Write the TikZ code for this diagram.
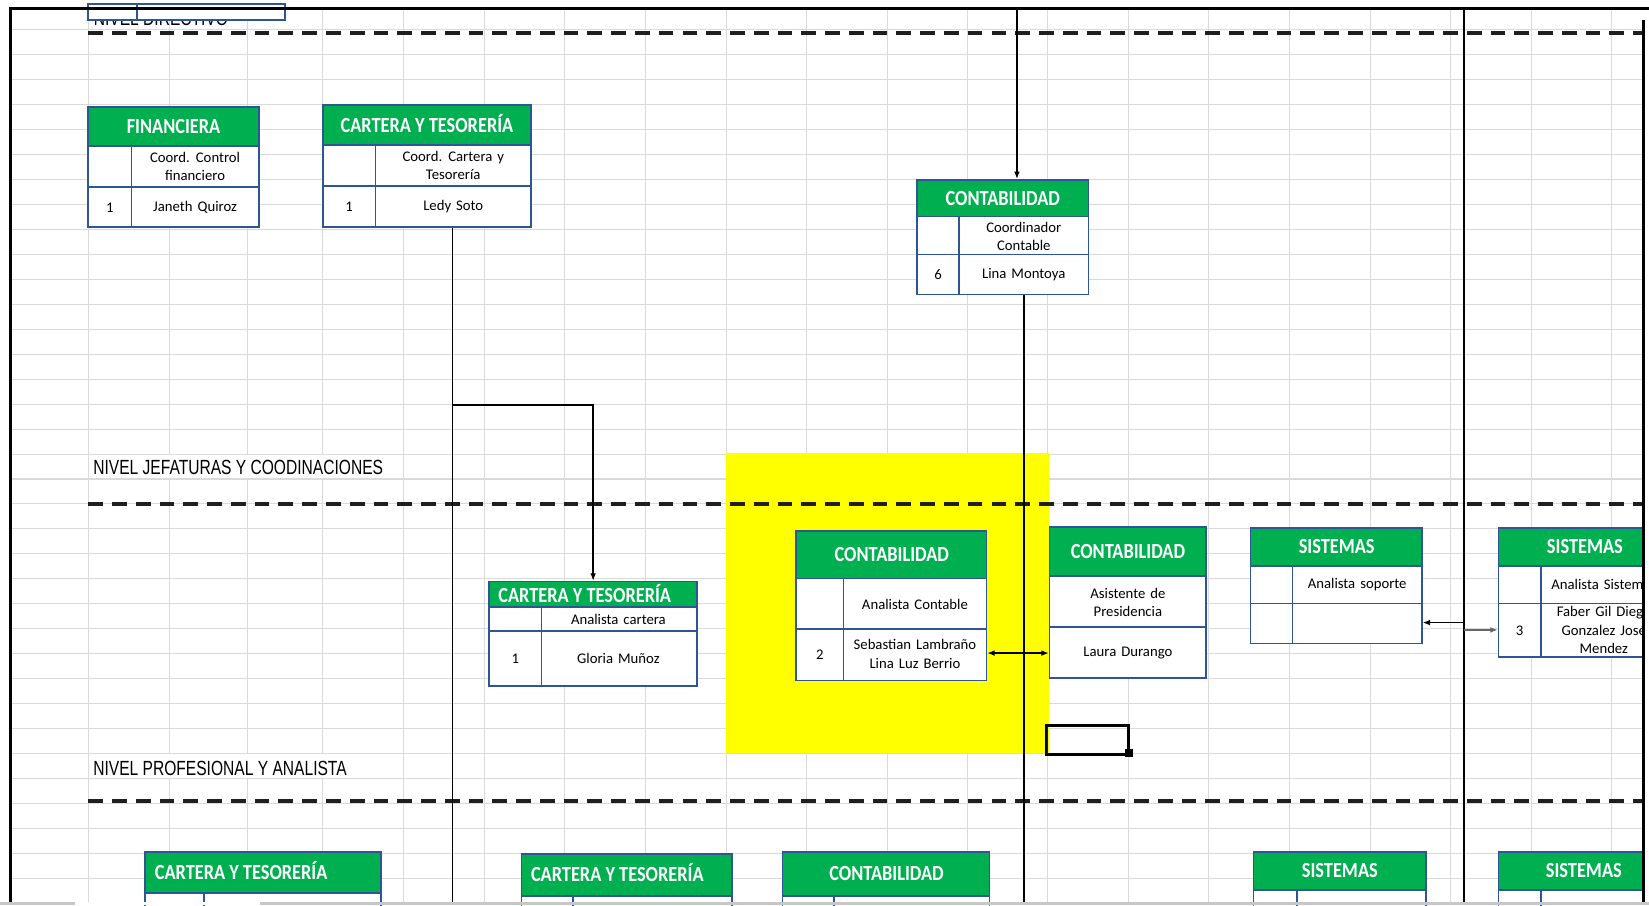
\documentclass[tikz,border=0pt]{standalone}
\usepackage{fontspec}
\newfontfamily\hdrfont[FakeStretch=0.85]{Carlito}
\newfontfamily\txtfont[WordSpace=1.5]{Carlito}
\newfontfamily\lblfont[FakeStretch=0.76]{Liberation Sans}
\usetikzlibrary{arrows.meta,fit}
\definecolor{xgreen}{RGB}{0,176,80}
\definecolor{xblue}{RGB}{47,85,151}
\definecolor{xgrid}{RGB}{218,218,218}
\definecolor{xyellow}{RGB}{255,255,0}
\tikzset{
  grid line/.style={xgrid, line width=1pt},
  level line/.style={line width=3.8pt, dash pattern=on 14pt off 8.6pt, black!88},
  boxline/.style={xblue, line width=1.6pt},
  hdrtxt/.style={text=white, font=\hdrfont\bfseries\fontsize{20.5}{24}\selectfont, inner sep=0pt, text height=13.2pt, text depth=0pt},
  celltxt/.style={font=\txtfont\fontsize{14}{17.5}\selectfont, align=center, inner sep=0pt},
  lvltxt/.style={font=\lblfont\fontsize{19.5}{22}\selectfont, inner sep=0pt, anchor=base west},
  conn/.style={line width=1.3pt, black},
  arr/.style={conn, -{Latex[length=7pt,width=5.5pt]}},
  darr/.style={conn, {Latex[length=7pt,width=5.5pt]}-{Latex[length=7pt,width=5.5pt]}},
}
% #1 name, #2 x1, #3 y1, #4 x2, #5 header bottom, #6 row2 bottom, #7 bottom, #8 divider x
\newcommand\orgbox[8]{%
  \fill[xgreen] (#2,#3) rectangle (#4,#5);
  \fill[white] (#2,#5) rectangle (#4,#7);
  \draw[boxline] (#2,#5) -- (#4,#5) (#2,#6) -- (#4,#6) (#8,#5) -- (#8,#7);
  \node[fit={(#2,#3) (#4,#7)}, inner sep=0pt, draw=xblue, line width=1.6pt] (#1) {};
}
\begin{document}
\begin{tikzpicture}[x=1pt,y=-1pt]
\useasboundingbox (0,0) rectangle (1568,861);
\fill[white] (0,0) rectangle (1568,861);
\begin{scope}
\clip (0,0) rectangle (1563,861);
% spreadsheet grid
\foreach \gx in {84,161,235,307,384,461,537,614,691,767,844,920,996,1073,1149,1226,1303,1379,1456,1532}
  \draw[grid line] (\gx,9.5) -- (\gx,861);
\foreach \k in {0,...,35}
  \draw[grid line] (11.5,{28.5+23.72*\k}) -- (1563,{28.5+23.72*\k});
% highlighted cells
\fill[xyellow] (690,431) rectangle (997,716);
% level labels
\fill[white] (84.5,432.3) rectangle (383.5,454.9);
\fill[white] (84.5,717) rectangle (383.5,739.5);
\node[lvltxt] (lblA) at (89,24) {NIVEL DIRECTIVO};
\node[lvltxt] (lblB) at (88.5,451) {NIVEL JEFATURAS Y COODINACIONES};
\node[lvltxt] (lblC) at (88.5,737) {NIVEL PROFESIONAL Y ANALISTA};
% partial box at top
\fill[white] (84,4) rectangle (271,19);
\draw[boxline] (84,4) rectangle (271,19) (130,4) -- (130,19);
% level separators
\draw[level line] (84,31) -- (1563,31);
\draw[level line] (84,479) -- (1563,479);
\draw[level line] (84,762) -- (1563,762);
% boxes
\orgbox{fin}{84}{102}{246}{139}{178}{216}{125}
\orgbox{ctA}{307}{100}{505}{138}{177}{216}{357}
\orgbox{conA}{872}{171}{1035}{206}{242}{280}{912}
\orgbox{ctB}{465}{553}{663}{577}{600}{652}{515}
\orgbox{conB}{757}{505}{938}{550}{598}{647}{802}
\orgbox{conC}{998}{501}{1147}{548}{596}{645}{998}
\orgbox{sisA}{1189}{502}{1352}{538}{574}{612}{1229}
\orgbox{sisB}{1425}{502}{1585}{538}{574}{625}{1465}
\orgbox{ctC}{138}{810}{362}{849}{890}{940}{194}
\orgbox{ctD}{496}{812}{696}{852}{890}{940}{545}
\orgbox{conD}{744}{810}{941}{852}{890}{940}{793}
\orgbox{sisC}{1192}{810}{1356}{846}{890}{940}{1233}
\orgbox{sisD}{1425}{810}{1585}{846}{890}{940}{1465}
% header texts
\node[hdrtxt] (h1) at (165,120.5) {FINANCIERA};
\node[hdrtxt] (h2) at (406,119) {CARTERA Y TESORERÍA};
\node[hdrtxt] (h3) at (953.5,188.5) {CONTABILIDAD};
\node[hdrtxt] (h4) at (556,566) {CARTERA Y TESORERÍA};
\node[hdrtxt] (h5) at (848,527.5) {CONTABILIDAD};
\node[hdrtxt] (h6) at (1072.5,524.5) {CONTABILIDAD};
\node[hdrtxt] (h7) at (1271,520) {SISTEMAS};
\node[hdrtxt] (h8) at (1507,520) {SISTEMAS};
\node[hdrtxt, anchor=west] (h9) at (147,829.5) {CARTERA Y TESORERÍA};
\node[hdrtxt] (h10) at (587,832) {CARTERA Y TESORERÍA};
\node[hdrtxt] (h11) at (843,831) {CONTABILIDAD};
\node[hdrtxt] (h12) at (1274,828) {SISTEMAS};
\node[hdrtxt] (h13) at (1506,828) {SISTEMAS};
% cell texts
\node[celltxt] (c1) at (185.5,158) {Coord. Control\\financiero};
\node[celltxt] (c2) at (104.5,197.5) {1};
\node[celltxt] (c3) at (185.5,197.5) {Janeth Quiroz};
\node[celltxt] (c4) at (431,157.5) {Coord. Cartera y\\Tesorería};
\node[celltxt] (c5) at (332,196.5) {1};
\node[celltxt] (c6) at (431,196.5) {Ledy Soto};
\node[celltxt] (c7) at (973.5,225) {Coordinador\\Contable};
\node[celltxt] (c8) at (892,261) {6};
\node[celltxt] (c9) at (973.5,261) {Lina Montoya};
\node[celltxt] (c10) at (588,589) {Analista cartera};
\node[celltxt] (c11) at (490,626.5) {1};
\node[celltxt] (c12) at (588,626.5) {Gloria Muñoz};
\node[celltxt] (c13) at (870,575) {Analista Contable};
\node[celltxt] (c14) at (779.5,622.5) {2};
\node[celltxt] (c15) at (870,622) {Sebastian Lambraño\\Lina Luz Berrio};
\node[celltxt] (c16) at (1072.5,573) {Asistente de\\Presidencia};
\node[celltxt] (c17) at (1072.5,621) {Laura Durango};
\node[celltxt] (c18) at (1290.5,556) {Analista soporte};
\node[celltxt] (c19) at (1525,556) {Analista Sistemas};
\node[celltxt] (c20) at (1445,599.5) {3};
\node[celltxt] (c21) at (1525,599) {Faber Gil Diego\\Gonzalez José\\Mendez};
% connectors
\coordinate (topA) at (967,8);
\draw[arr] (topA) -- (topA |- conA.north);
\coordinate (botA) at (973.5,861);
\draw[conn, line width=1.9pt] (botA |- conA.south) -- (botA);
\coordinate (botB) at (430.5,861);
\draw[conn] (botB |- ctA.south) -- (botB);
\coordinate (brB) at (430.5,385);
\draw[arr] (brB) -| (ctB.north);
\coordinate (da) at (950,621);
\draw[darr] (da -| conB.east) -- (da -| conC.west);
\coordinate (vtop) at (1392,8);
\coordinate (vbot) at (1392,861);
\draw[line width=2.6pt] (vtop) -- (vbot);
\coordinate (sa) at (1392,592);
\draw[arr] (sa) -- (sa -| sisA.east);
\coordinate (sb) at (1392,599);
\draw[arr, black!60, line width=2pt] (sb) -- (sb -| sisB.west);
% selected cell
\draw[line width=2.8pt] (995.5,690) rectangle (1073.5,717);
\draw[blue, line width=1.2pt] (996,690.5) -- (996,716.5);
\fill (1070,712.5) rectangle (1077,720);
\end{scope}
% sheet frame
\draw[line width=3pt] (8.5,8) -- (1568,8);
\draw[line width=3pt] (10,8) -- (10,861);
\draw[line width=3pt] (1563,19) -- (1563,861);
% bottom strip
\fill[black!22] (0,858) rectangle (1568,861);
\fill[white] (71,858) rectangle (247,861);
\end{tikzpicture}
\end{document}
